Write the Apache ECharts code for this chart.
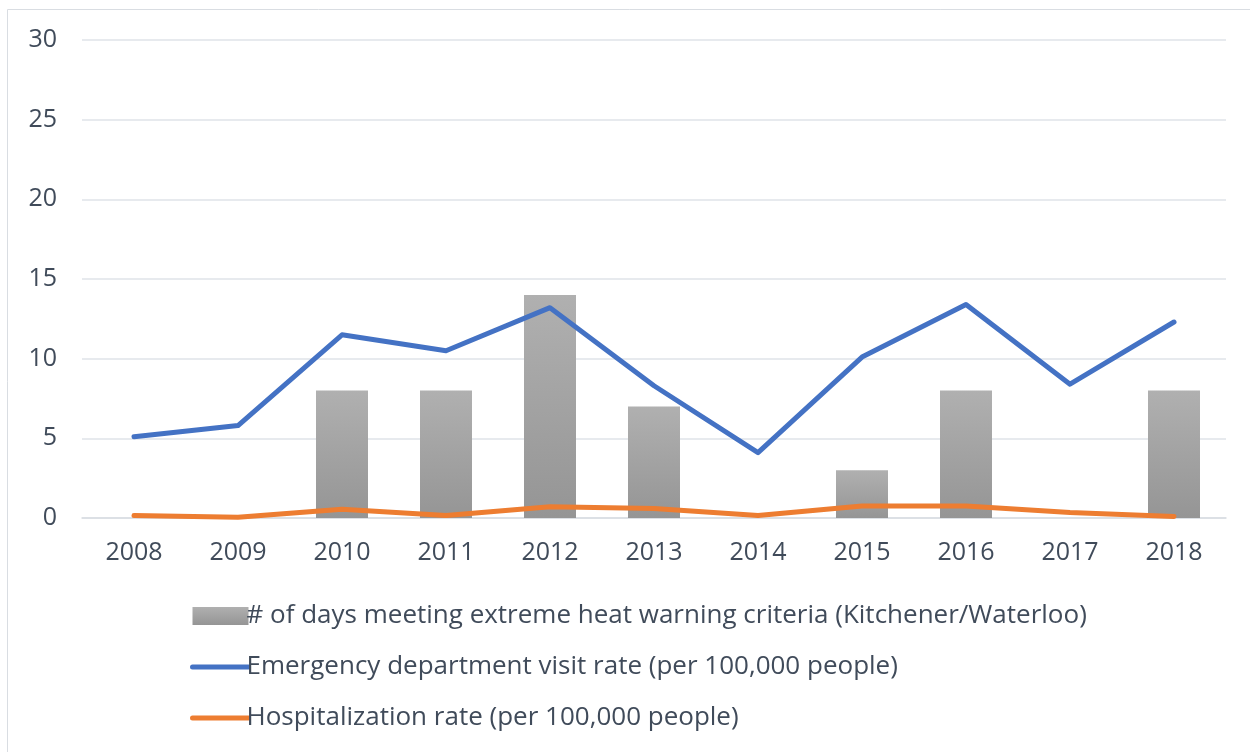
<!DOCTYPE html>
<html><head><meta charset="utf-8">
<script src="https://cdn.jsdelivr.net/npm/echarts@6/dist/echarts.min.js"></script>
<style>html,body{margin:0;padding:0;background:#fff}#c{width:1250px;height:752px}</style>
</head><body><div id="c"></div>
<script>
const years = ['2008','2009','2010','2011','2012','2013','2014','2015','2016','2017','2018'];
const heatDays = [null, null, 8, 8, 14, 7, null, 3, 8, null, 8];
const edRate = [5.1, 5.8, 11.5, 10.5, 13.2, 8.3, 4.1, 10.1, 13.4, 8.4, 12.3];
const hospRate = [0.15, 0.05, 0.55, 0.15, 0.7, 0.6, 0.15, 0.75, 0.75, 0.35, 0.1];
const yTicks = [0, 5, 10, 15, 20, 25, 30];

const txt = '#404b5a';
const font = 'Open Sans';
const chart = echarts.init(document.getElementById('c'), null, {renderer: 'canvas'});
chart.setOption({
  animation: false,
  textStyle: {fontFamily: font},
  graphic: [{type: 'rect', shape: {x: 7.5, y: 9.5, width: 1260, height: 760}, style: {fill: null, stroke: '#d9dde2', lineWidth: 1}, silent: true, z: -1}],
  grid: {left: 82, right: 24, top: 40, bottom: 234},
  legend: {
    orient: 'vertical', left: 185, top: 598, itemGap: 25, itemWidth: 56, itemHeight: 18,
    textStyle: {fontFamily: font, fontSize: 26, color: txt, padding: [0, 0, 0, -7]},
    lineStyle: {width: 5, cap: 'round'},
    data: [
      {name: '# of days meeting extreme heat warning criteria (Kitchener/Waterloo)', icon: 'rect'},
      {name: 'Emergency department visit rate (per 100,000 people)', itemStyle: {opacity: 0}},
      {name: 'Hospitalization rate (per 100,000 people)', itemStyle: {opacity: 0}}
    ]
  },
  xAxis: {
    type: 'category', data: years, boundaryGap: true,
    axisLine: {show: true, lineStyle: {color: '#d9dde2', width: 1.5}},
    axisTick: {show: false},
    axisLabel: {color: txt, fontSize: 25, fontFamily: font, margin: 22}
  },
  yAxis: {
    type: 'value', min: yTicks[0], max: yTicks[yTicks.length - 1], interval: 5,
    axisLine: {show: false}, axisTick: {show: false},
    splitLine: {lineStyle: {color: '#dfe3e8', width: 1.5}},
    axisLabel: {color: txt, fontSize: 25, fontFamily: font, margin: 25}
  },
  series: [
    {
      name: '# of days meeting extreme heat warning criteria (Kitchener/Waterloo)', type: 'bar', data: heatDays, barWidth: 52,
      itemStyle: {color: new echarts.graphic.LinearGradient(0, 0, 0, 1, [{offset: 0, color: '#b0b0b0'}, {offset: 1, color: '#959595'}])}
    },
    {
      name: 'Emergency department visit rate (per 100,000 people)', type: 'line', data: edRate,
      symbol: 'none', lineStyle: {color: '#4472c4', width: 5, cap: 'round', join: 'round'}, itemStyle: {color: '#4472c4'}, z: 3
    },
    {
      name: 'Hospitalization rate (per 100,000 people)', type: 'line', data: hospRate,
      symbol: 'none', lineStyle: {color: '#ed7d31', width: 5, cap: 'round', join: 'round'}, itemStyle: {color: '#ed7d31'}, z: 4
    }
  ]
});
</script></body></html>
